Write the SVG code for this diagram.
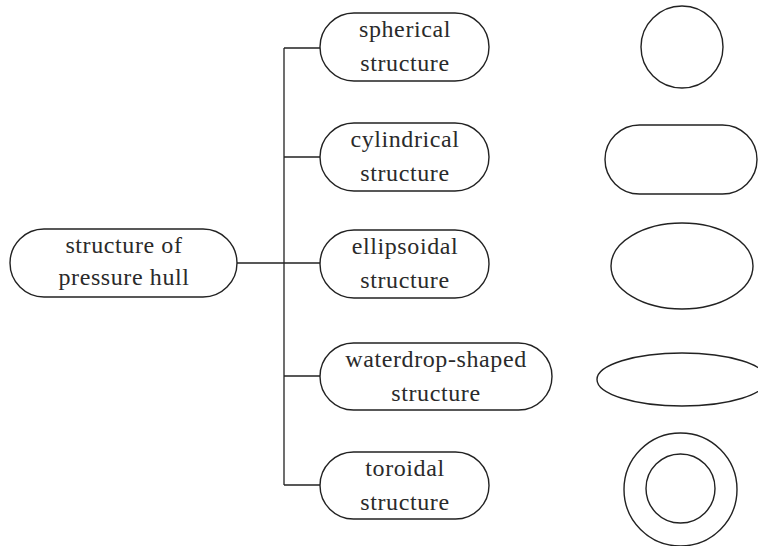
<svg xmlns="http://www.w3.org/2000/svg" width="758" height="546" viewBox="0 0 758 546">
<style>
.n{fill:#fff;stroke:#222;stroke-width:1.4}
.s{fill:none;stroke:#222;stroke-width:1.4}
.c{fill:none;stroke:#222;stroke-width:1.3}
.t{font-family:'Liberation Serif','Times New Roman',Times,serif;font-size:24px;fill:#2a2a2a;text-anchor:middle;letter-spacing:0.6px}
</style>
<rect width="758" height="546" fill="#fff"/>
<g id="connectors">
<path class="c" d="M237 263H320M284 48V485M284 48H320M284 157H320M284 376H320M284 485H320"/>
</g>
<g id="root">
<rect class="n" x="10" y="229" width="227" height="68" rx="34"/>
<text class="t" x="124" y="253">structure of</text>
<text class="t" x="124" y="285">pressure hull</text>
</g>
<g id="spherical">
<rect class="n" x="320" y="13" width="169" height="68" rx="34"/>
<text class="t" x="405" y="37">spherical</text>
<text class="t" x="405" y="71">structure</text>
</g>
<g id="cylindrical">
<rect class="n" x="320" y="123" width="169" height="68" rx="34"/>
<text class="t" x="405" y="147">cylindrical</text>
<text class="t" x="405" y="181">structure</text>
</g>
<g id="ellipsoidal">
<rect class="n" x="320" y="230" width="169" height="68" rx="34"/>
<text class="t" x="405" y="254">ellipsoidal</text>
<text class="t" x="405" y="288">structure</text>
</g>
<g id="waterdrop">
<rect class="n" x="320" y="343" width="232" height="67" rx="33.5"/>
<text class="t" x="436" y="367">waterdrop-shaped</text>
<text class="t" x="436" y="401">structure</text>
</g>
<g id="toroidal">
<rect class="n" x="320" y="452" width="169" height="67" rx="33.5"/>
<text class="t" x="405" y="476">toroidal</text>
<text class="t" x="405" y="510">structure</text>
</g>
<g id="shapes">
<circle class="s" cx="682" cy="47" r="41"/>
<rect class="s" x="605" y="125" width="152" height="69" rx="34.5"/>
<ellipse class="s" cx="682" cy="266" rx="71" ry="43"/>
<ellipse class="s" cx="682" cy="379.5" rx="85" ry="26.5"/>
<circle class="s" cx="680.5" cy="489.5" r="56.5"/>
<circle class="s" cx="680.5" cy="488.5" r="34.5"/>
</g>
</svg>
